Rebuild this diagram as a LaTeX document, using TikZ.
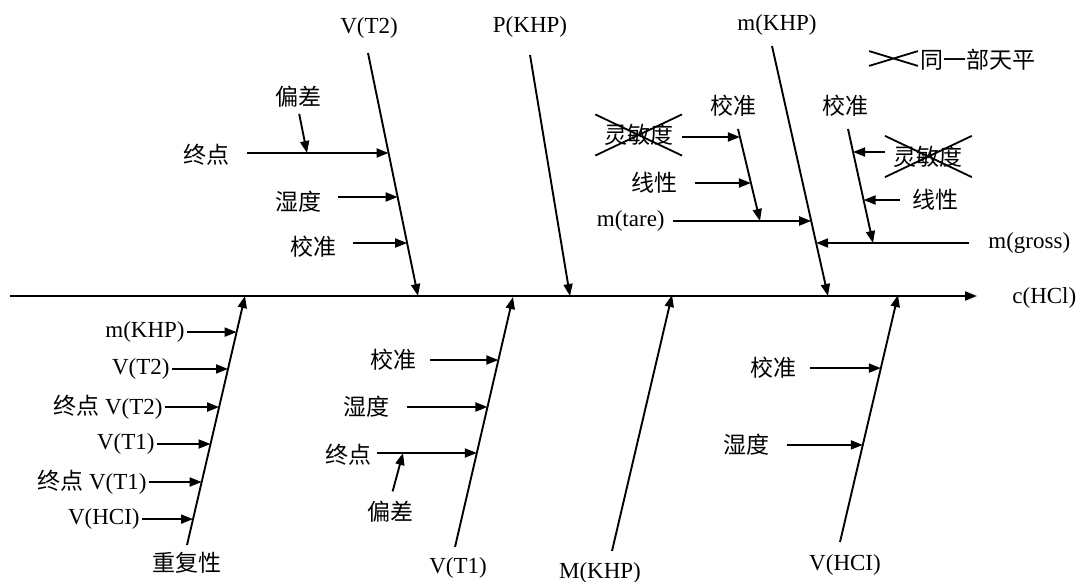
\documentclass[tikz,border=0pt]{standalone}
\usepackage{fontspec}
\setmainfont{Liberation Serif}
\newfontfamily\cjk{Noto Sans CJK SC}
\newcommand{\zh}[1]{{\cjk #1}}
\usetikzlibrary{arrows.meta, calc, shapes.misc}

\begin{document}
\begin{tikzpicture}[x=0.5pt, y=-0.5pt, >={Triangle[length=6pt,width=4.5pt]},
	font=\fontsize{11.5}{13}\selectfont,
	bone/.style={->, line width=0.95pt},
	twig/.style={->, line width=0.95pt},
	lbl/.style={inner sep=0pt},
	struck/.style={cross out, draw, line width=0.9pt, inner xsep=4pt, inner ysep=4.5pt}]
	
	\useasboundingbox (0,0) rectangle (1079,582);
	
	% ===== main spine =====
	\coordinate (tail) at (10,296);
	\coordinate (head) at (977,296);
	\draw[bone] (tail) -- (head);
	\node[lbl, anchor=west] (chcl) at (1012,298) {c(HCl)};
	
	% ===== V(T2) =====
	\node (vt2) at (369,28) {V(T2)};
	\coordinate (t2a) at (368,53);
	\coordinate (t2b) at (418,296);
	\draw[bone] (t2a) -- (t2b);
	\coordinate (t2p1) at ($(t2a)!0.4115!(t2b)$);
	\coordinate (t2p2) at ($(t2a)!0.5926!(t2b)$);
	\coordinate (t2p3) at ($(t2a)!0.782!(t2b)$);
	\node[lbl, anchor=east] (t2end) at (230,155) {\zh{终点}};
	\node[lbl, anchor=east] (t2hum) at (322,202) {\zh{湿度}};
	\node[lbl, anchor=east] (t2cal) at (337,247) {\zh{校准}};
	\draw[twig, shorten <=8.5pt] (t2end.east |- t2p1) -- (t2p1);
	\draw[twig, shorten <=8pt] (t2hum.east |- t2p2) -- (t2p2);
	\draw[twig, shorten <=8pt] (t2cal.east |- t2p3) -- (t2p3);
	% bias onto end point
	\node[lbl] (t2dev) at (298,97) {\zh{偏差}};
	\coordinate (t2q) at (307,153);
	\draw[twig, shorten <=3pt] (t2dev.south) -- (t2q);
	
	% ===== P(KHP) =====
	\node (pkhp) at (530,27) {P(KHP)};
	\coordinate (pa) at (530,55);
	\coordinate (pb) at (570,296);
	\draw[bone] (pa) -- (pb);
	
	% ===== m(KHP) =====
	\node (mkhp) at (777,25) {m(KHP)};
	\coordinate (ma) at (772,46);
	\coordinate (mb) at (828,296);
	\draw[bone] (ma) -- (mb);
	\coordinate (mp1) at ($(ma)!0.70!(mb)$);
	\coordinate (mp2) at ($(ma)!0.788!(mb)$);
	\node[lbl, anchor=east] (tare) at (665,221) {m(tare)};
	\node[lbl, anchor=west] (gross) at (988,243) {m(gross)};
	\draw[twig, shorten <=4pt] (tare.east |- mp1) -- (mp1);
	\draw[twig, shorten <=9.5pt] (gross.west |- mp2) -- (mp2);
	
	% tare: calibration branch
	\node (tcal) at (733,106) {\zh{校准}};
	\coordinate (ta) at (738,129);
	\coordinate (tb) at (760,221);
	\draw[twig] (ta) -- (tb);
	\coordinate (tp1) at ($(ta)!0.087!(tb)$);
	\coordinate (tp2) at ($(ta)!0.587!(tb)$);
	\node[struck, anchor=east] (tsens) at (682,135) {\zh{灵敏度}};
	\node[lbl, anchor=east] (tlin) at (678,183) {\zh{线性}};
	\draw[twig] (tsens.east |- tp1) -- (tp1);
	\draw[twig, shorten <=8.5pt] (tlin.east |- tp2) -- (tp2);
	
	% gross: calibration branch
	\node (gcal) at (845,106) {\zh{校准}};
	\coordinate (ga) at (848,129);
	\coordinate (gb) at (873,243);
	\draw[twig] (ga) -- (gb);
	\coordinate (gp1) at ($(ga)!0.2018!(gb)$);
	\coordinate (gp2) at ($(ga)!0.623!(gb)$);
	\node[struck, anchor=west] (gsens) at (885,156.5) {\zh{灵敏度}};
	\node[lbl, anchor=west] (glin) at (912,200) {\zh{线性}};
	\draw[twig] (gsens.west |- gp1) -- (gp1);
	\draw[twig, shorten <=6pt] (glin.west |- gp2) -- (gp2);
	
	% key
	\node[cross out, draw, line width=0.9pt, minimum width=23.5pt, minimum height=6.5pt, inner sep=0pt] (keymark) at (893.5,58.5) {};
	\node[lbl, anchor=west] (keytext) at (920,60) {\zh{同一部天平}};
	
	% ===== repeatability =====
	\node (rep) at (187,563) {\zh{重复性}};
	\coordinate (ra) at (187,545);
	\coordinate (rb) at (245,296);
	\draw[bone] (ra) -- (rb);
	\coordinate (rp1) at ($(ra)!0.855!(rb)$);
	\coordinate (rp2) at ($(ra)!0.707!(rb)$);
	\coordinate (rp3) at ($(ra)!0.554!(rb)$);
	\coordinate (rp4) at ($(ra)!0.4056!(rb)$);
	\coordinate (rp5) at ($(ra)!0.253!(rb)$);
	\coordinate (rp6) at ($(ra)!0.104!(rb)$);
	\node[lbl, anchor=east] (r1) at (185,332) {m(KHP)};
	\node[lbl, anchor=east] (r2) at (170,369) {V(T2)};
	\node[lbl, anchor=east] (r3) at (163,407) {\zh{终点} V(T2)};
	\node[lbl, anchor=east] (r4) at (155,444) {V(T1)};
	\node[lbl, anchor=east] (r5) at (147,482) {\zh{终点} V(T1)};
	\node[lbl, anchor=east] (r6) at (140,519) {V(HCI)};
	\draw[twig, shorten <=1pt] (r1.east |- rp1) -- (rp1);
	\draw[twig, shorten <=1pt] (r2.east |- rp2) -- (rp2);
	\draw[twig, shorten <=1pt] (r3.east |- rp3) -- (rp3);
	\draw[twig, shorten <=1pt] (r4.east |- rp4) -- (rp4);
	\draw[twig, shorten <=1pt] (r5.east |- rp5) -- (rp5);
	\draw[twig, shorten <=1pt] (r6.east |- rp6) -- (rp6);
	
	% ===== V(T1) =====
	\node (vt1) at (458,568) {V(T1)};
	\coordinate (v1a) at (455,547);
	\coordinate (v1b) at (513,297);
	\draw[bone] (v1a) -- (v1b);
	\coordinate (v1p1) at ($(v1a)!0.748!(v1b)$);
	\coordinate (v1p2) at ($(v1a)!0.56!(v1b)$);
	\coordinate (v1p3) at ($(v1a)!0.376!(v1b)$);
	\node[lbl, anchor=east] (v1cal) at (417,360) {\zh{校准}};
	\node[lbl, anchor=east] (v1hum) at (390,407) {\zh{湿度}};
	\node[lbl, anchor=east] (v1end) at (372,455) {\zh{终点}};
	\draw[twig, shorten <=6.5pt] (v1cal.east |- v1p1) -- (v1p1);
	\draw[twig, shorten <=8.5pt] (v1hum.east |- v1p2) -- (v1p2);
	\draw[twig, shorten <=2.5pt] (v1end.east |- v1p3) -- (v1p3);
	% bias onto end point
	\node[lbl] (v1dev) at (390,512) {\zh{偏差}};
	\coordinate (v1q) at (403,453);
	\draw[twig, shorten <=5pt] (v1dev.north) -- (v1q);
	
	% ===== M(KHP) =====
	\node (bigm) at (600,573) {M(KHP)};
	\coordinate (Ma) at (612,551);
	\coordinate (Mb) at (672,295);
	\draw[bone] (Ma) -- (Mb);
	
	% ===== V(HCl) =====
	\node (vhcl) at (845,565) {V(HCI)};
	\coordinate (ha) at (840,542);
	\coordinate (hb) at (898,295);
	\draw[bone] (ha) -- (hb);
	\coordinate (hp1) at ($(ha)!0.704!(hb)$);
	\coordinate (hp2) at ($(ha)!0.393!(hb)$);
	\node[lbl, anchor=east] (hcal) at (797,368) {\zh{校准}};
	\node[lbl, anchor=east] (hhum) at (770,445) {\zh{湿度}};
	\draw[twig, shorten <=6.5pt] (hcal.east |- hp1) -- (hp1);
	\draw[twig, shorten <=8.5pt] (hhum.east |- hp2) -- (hp2);
	
\end{tikzpicture}
\end{document}
